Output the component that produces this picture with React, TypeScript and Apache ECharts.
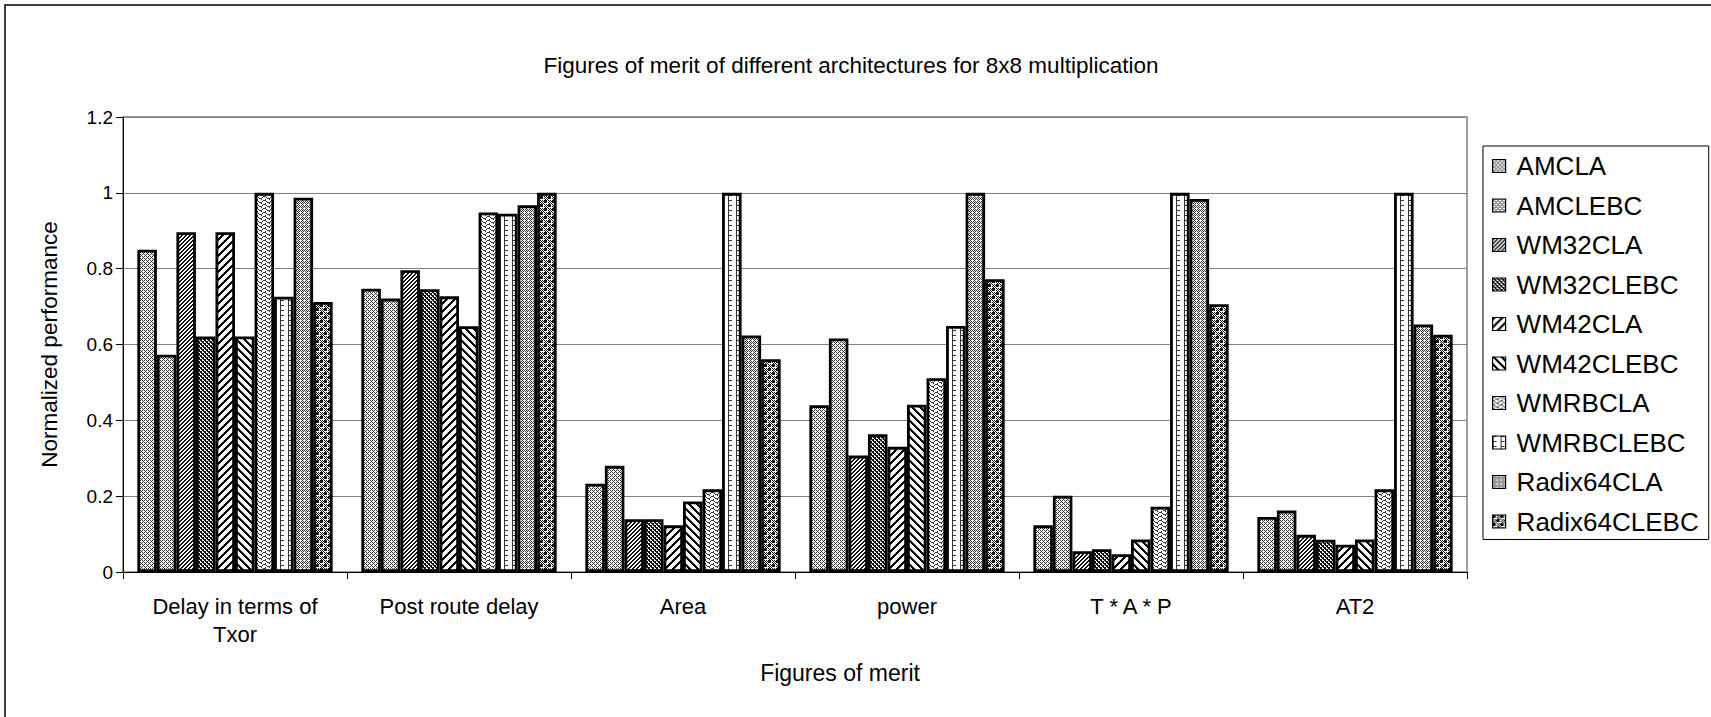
import React, { useEffect, useRef } from "react";
import * as echarts from "echarts";

const categories = ["Delay in terms of\nTxor", "Post route delay", "Area", "power", "T * A * P", "AT2"];
const seriesNames = ["AMCLA", "AMCLEBC", "WM32CLA", "WM32CLEBC", "WM42CLA", "WM42CLEBC", "WMRBCLA", "WMRBCLEBC", "Radix64CLA", "Radix64CLEBC"];

const amcla = [0.85, 0.747, 0.233, 0.44, 0.123, 0.145];
const amclebc = [0.573, 0.721, 0.28, 0.616, 0.201, 0.162];
const wm32cla = [0.896, 0.796, 0.139, 0.307, 0.055, 0.098];
const wm32clebc = [0.621, 0.746, 0.139, 0.363, 0.06, 0.085];
const wm42cla = [0.896, 0.727, 0.123, 0.33, 0.047, 0.072];
const wm42clebc = [0.621, 0.648, 0.186, 0.441, 0.086, 0.086];
const wmrbcla = [1.0, 0.948, 0.218, 0.511, 0.172, 0.218];
const wmrbclebc = [0.726, 0.945, 1.0, 0.649, 1.0, 1.0];
const radix64cla = [0.987, 0.967, 0.624, 1.0, 0.984, 0.653];
const radix64clebc = [0.712, 1.0, 0.561, 0.772, 0.706, 0.626];

const seriesValues = [amcla, amclebc, wm32cla, wm32clebc, wm42cla, wm42clebc, wmrbcla, wmrbclebc, radix64cla, radix64clebc];

const yMin = 0;
const yMax = 1.2;
const yInterval = 0.2;

const FONT = "'Liberation Sans', Arial, sans-serif";

type OnFn = (x: number, y: number) => boolean;

function makePattern(w: number, h: number, on: OnFn, color = "#000") {
  const c = document.createElement("canvas");
  c.width = w;
  c.height = h;
  const ctx = c.getContext("2d")!;
  ctx.fillStyle = "#fff";
  ctx.fillRect(0, 0, w, h);
  ctx.fillStyle = color;
  for (let y = 0; y < h; y++) {
    for (let x = 0; x < w; x++) {
      if (on(x, y)) ctx.fillRect(x, y, 1, 1);
    }
  }
  return { image: c.toDataURL(), repeat: "repeat", imageWidth: w, imageHeight: h };
}

function buildPatterns() {
  const wave = [0, 0, 1, 2, 2, 2, 1, 0];
  return [
    // AMCLA: light dotted upward diagonal
    makePattern(8, 8, (x, y) => (x + y) % 4 === 0 || ((x + y) % 4 === 2 && x % 2 === 0), "#333"),
    // AMCLEBC: light dotted downward diagonal
    makePattern(8, 8, (x, y) => (x - y + 16) % 4 === 0 || ((x - y + 16) % 4 === 2 && x % 2 === 0), "#333"),
    // WM32CLA: dark upward diagonal
    makePattern(8, 8, (x, y) => (x + y) % 4 < 2, "#111"),
    // WM32CLEBC: dark downward diagonal
    makePattern(8, 8, (x, y) => (x - y + 16) % 4 < 2 || (x + y) % 4 === 0, "#111"),
    // WM42CLA: wide upward diagonal
    makePattern(8, 8, (x, y) => (x + y) % 8 < 3, "#000"),
    // WM42CLEBC: wide downward diagonal
    makePattern(8, 8, (x, y) => (x - y + 16) % 8 < 3, "#000"),
    // WMRBCLA: wave
    makePattern(8, 4, (x, y) => y === (wave[x] % 4) || (x % 4 === 1 && y === 3), "#333"),
    // WMRBCLEBC: ladder / dashed
    makePattern(8, 5, (x, y) => x === 0 || (y === 0 && x < 4), "#333"),
    // Radix64CLA: dotted grid
    makePattern(4, 4, (x, y) => (x + y) % 2 === 0 && !(x % 4 === 0 && y % 4 === 0), "#333"),
    // Radix64CLEBC: dark checker
    makePattern(8, 8, (x, y) => {
      const bx = Math.floor(x / 4);
      const by = Math.floor(y / 4);
      if ((bx + by) % 2 === 0) return x % 4 < 3 && y % 4 < 3;
      return (x + y) % 2 === 0;
    }, "#111"),
  ];
}

export default function App() {
  const ref = useRef<HTMLDivElement>(null);

  useEffect(() => {
    if (!ref.current) return;
    const chart = echarts.init(ref.current, undefined, { renderer: "svg" });
    const patterns = buildPatterns();

    const series = seriesNames.map((name, i) => ({
      type: "bar",
      name,
      data: seriesValues[i],
      barGap: "0%",
      barCategoryGap: "12.8%",
      itemStyle: { color: patterns[i], borderColor: "#000", borderWidth: 2.8 },
      emphasis: { disabled: true },
    }));

    chart.setOption({
      animation: false,
      backgroundColor: "#fff",
      grid: {
        left: 123,
        top: 117,
        right: 1711 - 1467,
        bottom: 717 - 572,
        show: true,
        borderColor: "#808080",
        borderWidth: 1.5,
        containLabel: false,
      },
      legend: {
        orient: "vertical",
        left: 1483,
        top: 146,
        padding: [7, 10, 5, 9],
        borderColor: "#000",
        borderWidth: 1,
        itemWidth: 13,
        itemHeight: 13,
        itemGap: 13.5,
        icon: "rect",
        itemStyle: { borderColor: "#000", borderWidth: 1.2 },
        textStyle: { fontFamily: FONT, fontSize: 26, color: "#000", padding: [0, 0, 0, 6] },
        data: seriesNames,
        selectedMode: false,
      },
      xAxis: {
        type: "category",
        data: categories,
        axisLine: { lineStyle: { color: "#000", width: 1 } },
        axisTick: { show: true, length: 7, lineStyle: { color: "#000" } },
        axisLabel: {
          fontFamily: FONT,
          fontSize: 22,
          color: "#000",
          margin: 20,
          lineHeight: 28,
          interval: 0,
        },
      },
      yAxis: {
        type: "value",
        min: yMin,
        max: yMax,
        interval: yInterval,
        name: "Normalized performance",
        nameLocation: "middle",
        nameRotate: 90,
        nameGap: 62,
        nameTextStyle: { fontFamily: FONT, fontSize: 22.5, color: "#000" },
        axisLine: { show: true, lineStyle: { color: "#000", width: 1 } },
        axisTick: { show: true, length: 7, lineStyle: { color: "#000" } },
        axisLabel: { fontFamily: FONT, fontSize: 19, color: "#000", margin: 10 },
        splitLine: { show: true, lineStyle: { color: "#808080", width: 1 } },
      },
      graphic: [
        {
          type: "rect",
          shape: { x: 5, y: 5, width: 1760, height: 760 },
          style: { fill: "none", stroke: "#000", lineWidth: 1.5 },
          silent: true,
          z: -1,
        },
        {
          type: "text",
          x: 851,
          y: 65,
          style: {
            text: "Figures of merit of different architectures for 8x8 multiplication",
            font: `22.5px ${FONT}`,
            fill: "#000",
            textAlign: "center",
            textVerticalAlign: "middle",
          },
        },
        {
          type: "text",
          x: 840,
          y: 673,
          style: {
            text: "Figures of merit",
            font: `23px ${FONT}`,
            fill: "#000",
            textAlign: "center",
            textVerticalAlign: "middle",
          },
        },
      ],
      series,
    });

    return () => chart.dispose();
  }, []);

  return (
    <div
      ref={ref}
      style={{ position: "fixed", left: 0, top: 0, width: 1711, height: 717, background: "#fff" }}
    />
  );
}
